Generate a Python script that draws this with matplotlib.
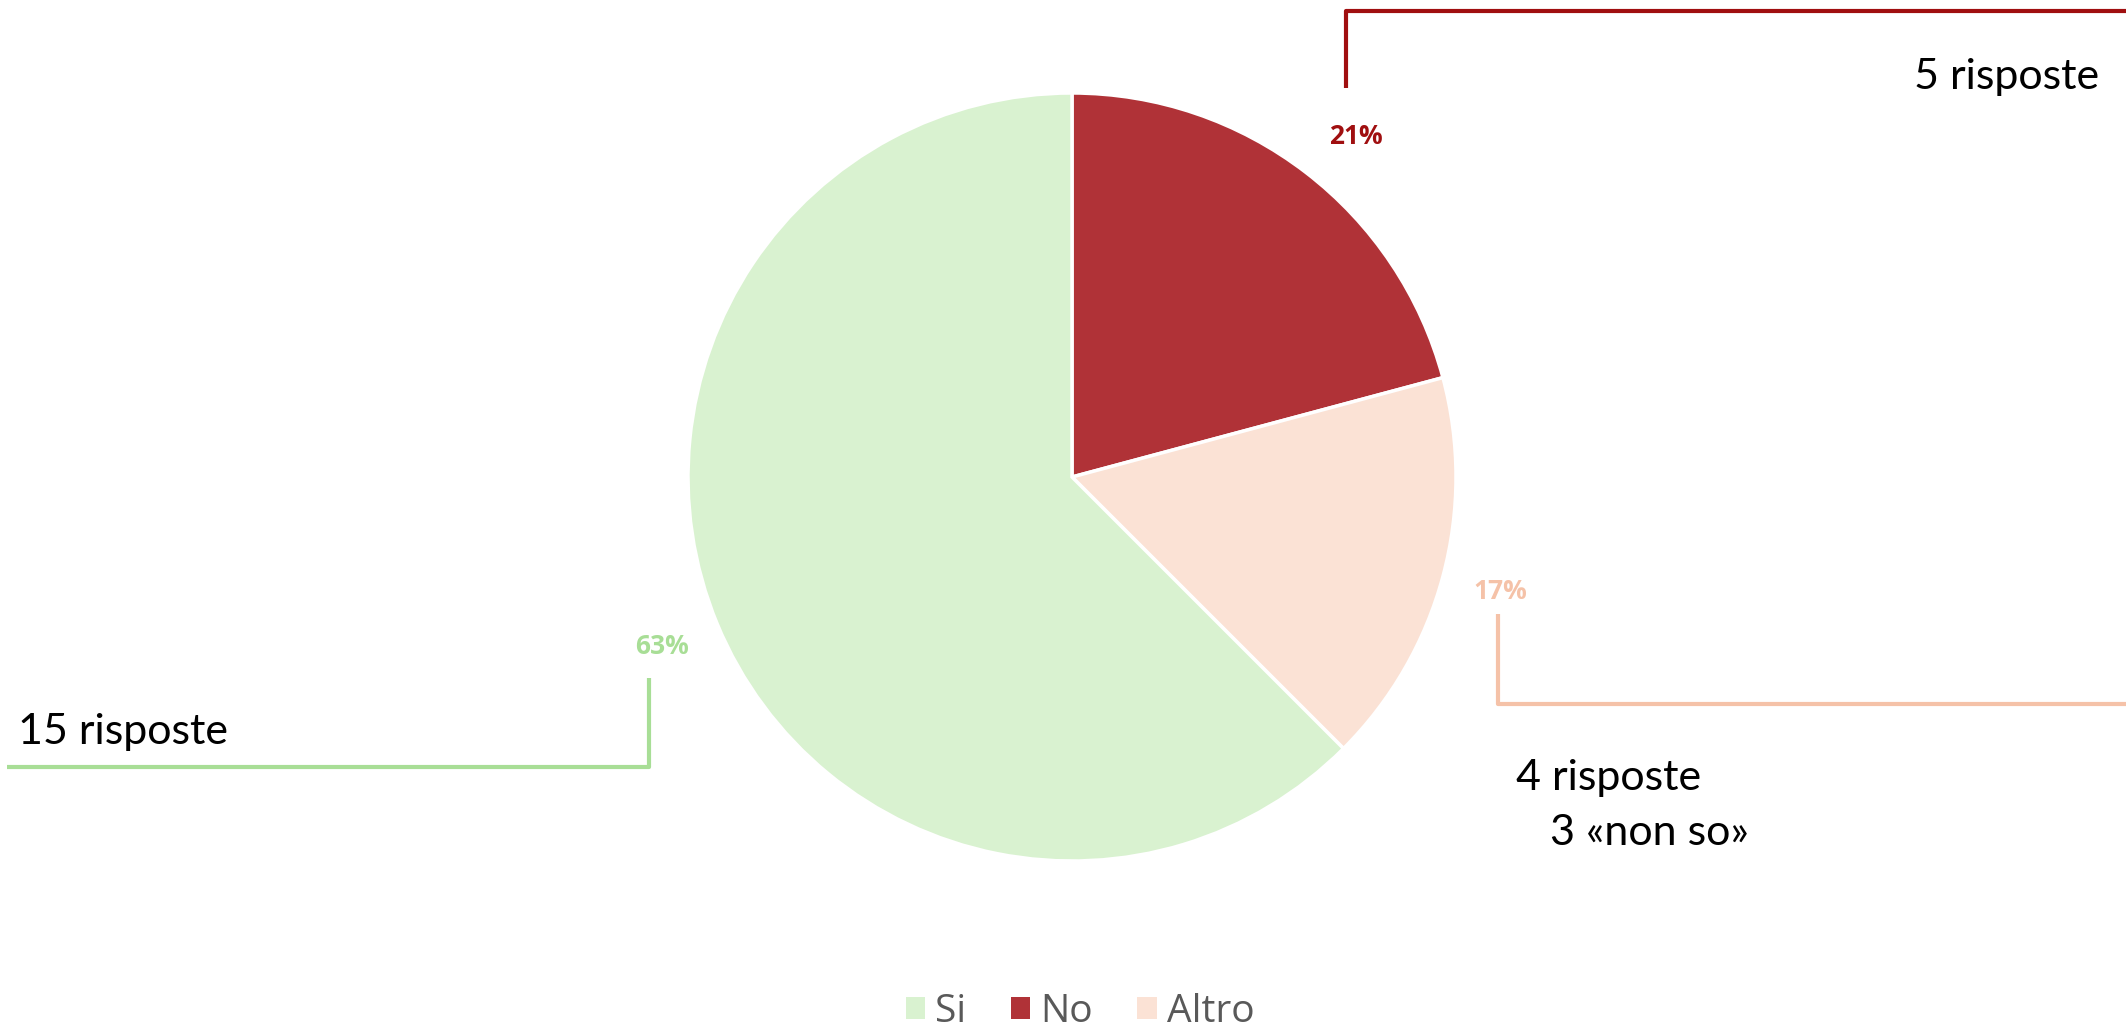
import matplotlib.pyplot as plt
from matplotlib.patches import Patch

# Dati del grafico
categorie = ['Si', 'No', 'Altro']
risposte = [15, 5, 4]
colori = ['#D9F2D0', '#B03237', '#FBE2D5']
colori_etichette = ['#A8DE96', '#A00F10', '#F5C2A8']
note = ['15 risposte', '5 risposte', '4 risposte', '3 «non so»']

W, H = 2126, 1028
fig = plt.figure(figsize=(W / 100, H / 100), dpi=100)
ax = fig.add_axes([0, 0, 1, 1])

# ordine di disegno: No, Altro, Si in senso orario da ore 12
ordine = [1, 2, 0]
valori = [risposte[i] for i in ordine]

def fmt_pct(p):
    return f'{int(p + 0.5)}%'

wedges, testi, pct_testi = ax.pie(
    valori, colors=[colori[i] for i in ordine], startangle=90, counterclock=False,
    center=(1072, H - 477), radius=384, autopct=fmt_pct, pctdistance=1.155,
    wedgeprops=dict(edgecolor='white', linewidth=2.5),
    textprops=dict(fontsize=19, fontweight='bold', family='Open Sans'))
for t, i in zip(pct_testi, ordine):
    t.set_color(colori_etichette[i])
# piccolo spostamento dell'etichetta 21% come nell'originale
x0, y0 = pct_testi[0].get_position()
pct_testi[0].set_position((x0 + 14, y0 - 11))

ax.set_xlim(0, W)
ax.set_ylim(0, H)
ax.set_aspect('equal')
ax.axis('off')

# linee di richiamo (coordinate in pixel dell'immagine)
def linea(xs, ys, c):
    ax.plot(xs, [H - y for y in ys], color=c, lw=3, solid_capstyle='butt')

linea([1346, 1346, W], [88, 11, 11], colori_etichette[1])
linea([1498, 1498, W], [614, 704, 704], colori_etichette[2])
linea([649, 649, 7], [678, 767, 767], colori_etichette[0])

testo = dict(fontsize=31, family='Lato', color='black', va='center')
ax.text(2099, H - 77, note[1], ha='right', **testo)
ax.text(1516, H - 778, note[2], ha='left', **testo)
ax.text(1550, H - 833, note[3], ha='left', **testo)
ax.text(18, H - 732, note[0], ha='left', **testo)

# legenda
maniglie = [Patch(facecolor=c, edgecolor='none') for c in colori]
leg = ax.legend(maniglie, categorie, ncol=3, loc='center',
                bbox_to_anchor=(0.508, 1 - 1012 / H), bbox_transform=fig.transFigure,
                frameon=False, handlelength=0.5, handleheight=0.5,
                handletextpad=0.25, columnspacing=1.15,
                prop=dict(family='Open Sans', size=28))
for t in leg.get_texts():
    t.set_color('#595959')

fig.savefig('out.png', dpi=100)
